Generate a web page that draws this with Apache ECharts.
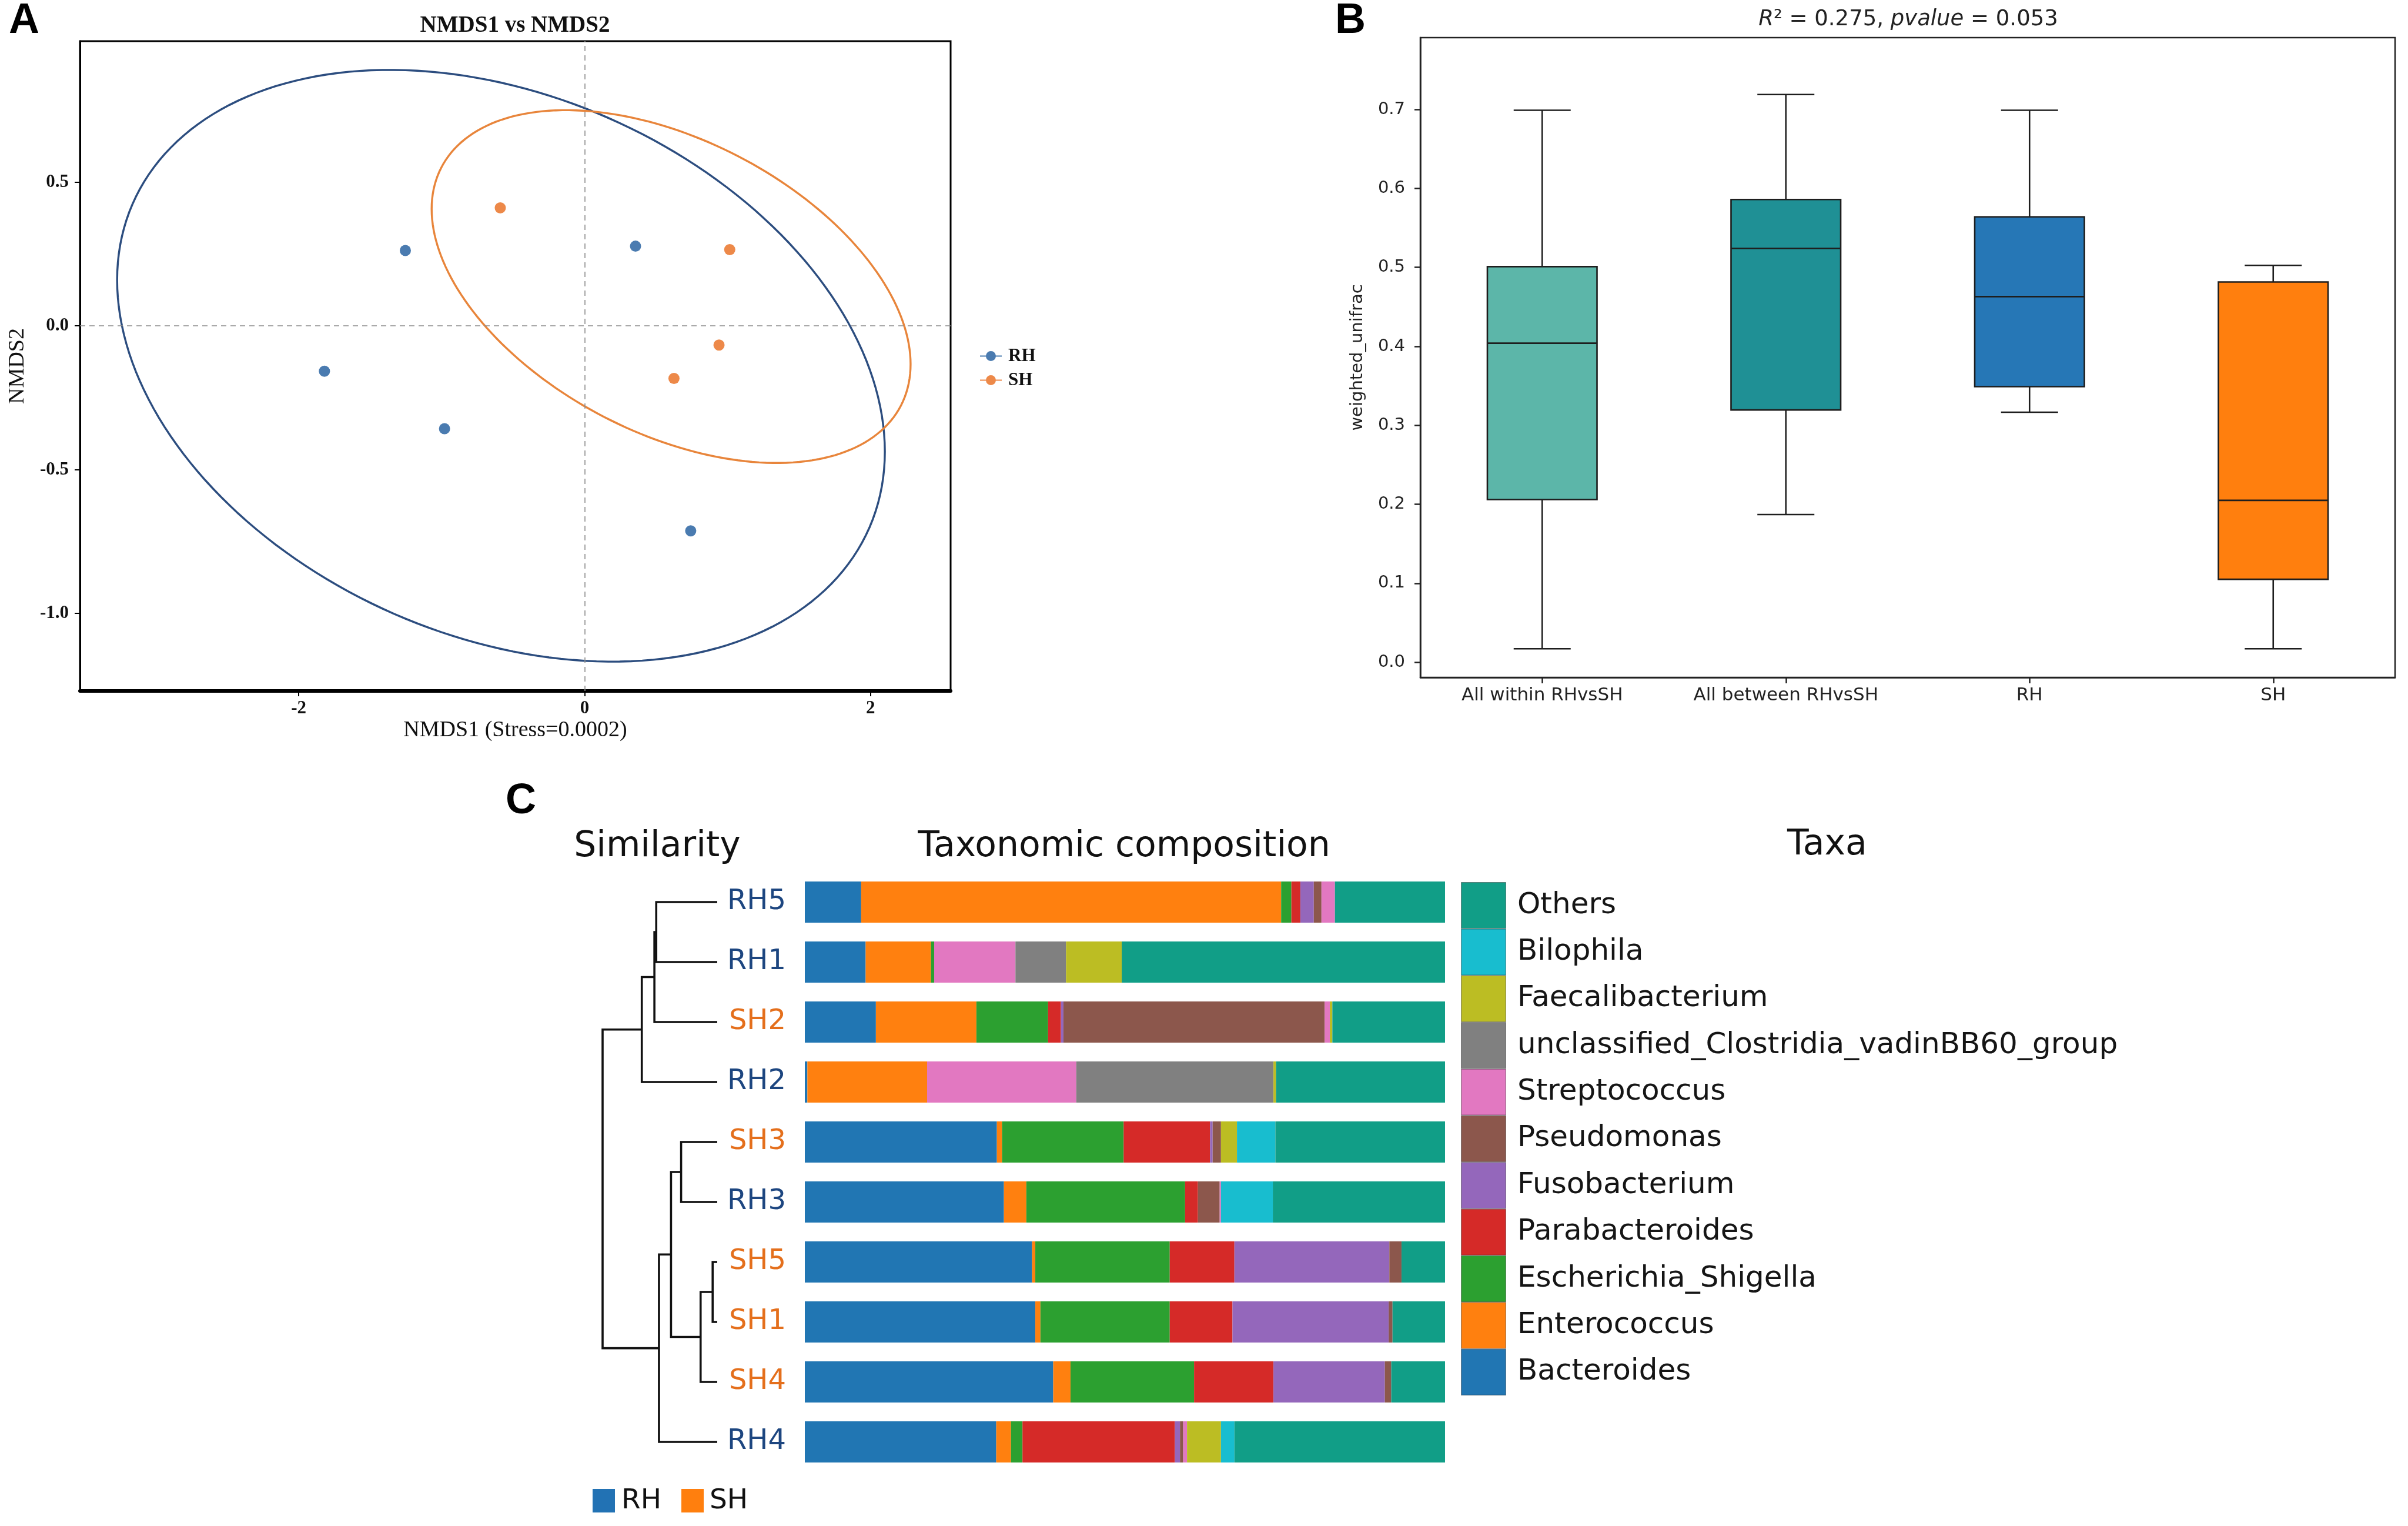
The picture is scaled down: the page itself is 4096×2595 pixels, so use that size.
<!DOCTYPE html>
<html>
<head>
<meta charset="utf-8">
<script src="https://cdn.jsdelivr.net/npm/echarts@6/dist/echarts.min.js"></script>
<style>html,body{margin:0;padding:0;background:#fff}#c{width:4096px;height:2595px}</style>
</head>
<body>
<div id="c"></div>
<script>
// ---------- Panel A: NMDS ----------
const rhPoints = [[-1.254, 0.262], [-1.82, -0.158], [-0.98, -0.358], [0.356, 0.277], [0.742, -0.713]];
const shPoints = [[-0.59, 0.41], [1.015, 0.265], [0.94, -0.067], [0.625, -0.183]];
// ellipse: [centerX, centerY, halfExtentX, halfExtentY, correlation]
const ellipseRH = [-0.585, -0.139, 2.685, 1.029, -0.29];
const ellipseSH = [0.605, 0.1365, 1.675, 0.6135, -0.44];
const nmdsXTicks = [-2, 0, 2];
const nmdsYTicks = [-1, -0.5, 0, 0.5];

// ---------- Panel B: boxplot ----------
const boxCategories = ['All within RHvsSH', 'All between RHvsSH', 'RH', 'SH'];
// [low, Q1, median, Q3, high]
const boxAllWithin = [0.017, 0.206, 0.404, 0.501, 0.699];
const boxAllBetween = [0.187, 0.3195, 0.524, 0.586, 0.719];
const boxRH = [0.3166, 0.349, 0.463, 0.564, 0.699];
const boxSH = [0.017, 0.105, 0.205, 0.4816, 0.5026];
const boxColors = ['#5cb6a9', '#1f9095', '#2677b6', '#ff7f0e'];
const boxYTicks = [0, 0.1, 0.2, 0.3, 0.4, 0.5, 0.6, 0.7];

// ---------- Panel C: taxonomic composition ----------
const samples = ['RH5', 'RH1', 'SH2', 'RH2', 'SH3', 'RH3', 'SH5', 'SH1', 'SH4', 'RH4'];
const bacteroides      = [8.8, 9.5, 11.1, 0.4, 30.0, 31.1, 35.5, 36.0, 38.8, 29.9];
const enterococcus     = [65.6, 10.2, 15.7, 18.7, 0.8, 3.5, 0.5, 0.8, 2.7, 2.3];
const escherichia      = [1.6, 0.5, 11.2, 0, 19.0, 24.8, 21.0, 20.2, 19.3, 1.8];
const parabacteroides  = [1.4, 0, 2.0, 0, 13.5, 2.0, 10.1, 9.8, 12.4, 23.8];
const fusobacterium    = [2.1, 0, 0.4, 0, 0.4, 0, 24.2, 24.4, 17.4, 0.8];
const pseudomonas      = [1.2, 0, 40.8, 0, 1.3, 3.4, 1.9, 0.6, 1.0, 0.5];
const streptococcus    = [2.1, 12.7, 0.8, 23.3, 0, 0.2, 0, 0, 0, 0.6];
const unclassified     = [0, 7.9, 0, 30.8, 0, 0, 0, 0, 0, 0];
const faecalibacterium = [0, 8.7, 0.4, 0.4, 2.5, 0, 0, 0, 0, 5.3];
const bilophila        = [0, 0, 0, 0, 6.0, 8.1, 0, 0, 0, 2.1];
const others           = [17.2, 50.5, 17.6, 26.4, 26.5, 26.9, 6.8, 8.2, 8.4, 32.9];
const taxaNames = ['Bacteroides', 'Enterococcus', 'Escherichia_Shigella', 'Parabacteroides', 'Fusobacterium',
  'Pseudomonas', 'Streptococcus', 'unclassified_Clostridia_vadinBB60_group', 'Faecalibacterium', 'Bilophila', 'Others'];
const taxaColors = ['#2176b3', '#ff800f', '#2ca030', '#d52a28', '#9467bb', '#8c574c', '#e278c1', '#808080', '#bcbd23', '#18bdcf', '#119e87'];
const taxaValues = [bacteroides, enterococcus, escherichia, parabacteroides, fusobacterium, pseudomonas,
  streptococcus, unclassified, faecalibacterium, bilophila, others];
// dendrogram merges: [childA, childB, height]; indices < 10 are rows of `samples`
const merges = [[0, 1, 0.532], [10, 2, 0.548], [11, 3, 0.658], [4, 5, 0.315], [6, 7, 0.04],
  [14, 8, 0.145], [13, 15, 0.403], [16, 9, 0.508], [12, 17, 1.0]];

const SERIF = 'Liberation Serif', SANS = 'DejaVu Sans';
const RH_TEXT = '#1d4680', SH_TEXT = '#e46f1c';

// dendrogram link segments built from the merge table
const pos = [], hgt = [];
samples.forEach((s, i) => { pos[i] = i; hgt[i] = 0; });
const links = merges.map(([a, b, h], k) => {
  const row = [hgt[a], pos[a], hgt[b], pos[b], h];
  pos[samples.length + k] = (pos[a] + pos[b]) / 2;
  hgt[samples.length + k] = h;
  return row;
});

const chart = echarts.init(document.getElementById('c'), null, {renderer: 'canvas'});

const ellipseSeries = {
  type: 'custom', xAxisIndex: 0, yAxisIndex: 0, silent: true, z: 2,
  data: [ellipseRH, ellipseSH],
  encode: {x: 0, y: 1},
  renderItem: function (params, api) {
    const cx = api.value(0), cy = api.value(1), sx = api.value(2), sy = api.value(3), r = api.value(4);
    const q = Math.sqrt(1 - r * r);
    const pts = [];
    for (let k = 0; k <= 200; k++) {
      const t = Math.PI * 2 * k / 200;
      pts.push(api.coord([cx + sx * Math.cos(t), cy + sy * (r * Math.cos(t) + q * Math.sin(t))]));
    }
    return {type: 'polyline', shape: {points: pts},
      style: {fill: 'none', stroke: params.dataIndex === 0 ? '#2c4d7f' : '#e8853b', lineWidth: 3.4}};
  }
};

const boxSeries = {
  type: 'custom', xAxisIndex: 1, yAxisIndex: 1, silent: true,
  data: [boxAllWithin, boxAllBetween, boxRH, boxSH].map((b, i) => [i].concat(b)),
  encode: {x: 0, y: [1, 2, 3, 4, 5]},
  renderItem: function (params, api) {
    const i = api.value(0);
    const band = api.size([1, 0])[0];
    const bw = band * 0.45, cw = bw * 0.52;
    const x = api.coord([i, 0])[0];
    const y = v => api.coord([i, v])[1];
    const lo = y(api.value(1)), q1 = y(api.value(2)), md = y(api.value(3)), q3 = y(api.value(4)), hi = y(api.value(5));
    const ls = {stroke: '#1e1e1e', lineWidth: 2.6};
    return {type: 'group', children: [
      {type: 'line', shape: {x1: x, y1: hi, x2: x, y2: q3}, style: ls},
      {type: 'line', shape: {x1: x, y1: q1, x2: x, y2: lo}, style: ls},
      {type: 'line', shape: {x1: x - cw / 2, y1: hi, x2: x + cw / 2, y2: hi}, style: ls},
      {type: 'line', shape: {x1: x - cw / 2, y1: lo, x2: x + cw / 2, y2: lo}, style: ls},
      {type: 'rect', shape: {x: x - bw / 2, y: q3, width: bw, height: q1 - q3},
        style: {fill: boxColors[params.dataIndex], stroke: '#1e1e1e', lineWidth: 2.6}},
      {type: 'line', shape: {x1: x - bw / 2, y1: md, x2: x + bw / 2, y2: md}, style: ls}
    ]};
  }
};

const dendroSeries = {
  type: 'custom', xAxisIndex: 2, yAxisIndex: 2, silent: true,
  data: links,
  encode: {x: [0, 2, 4], y: [1, 3]},
  renderItem: function (params, api) {
    const hA = api.value(0), yA = api.value(1), hB = api.value(2), yB = api.value(3), h = api.value(4);
    return {type: 'polyline',
      shape: {points: [api.coord([hA, yA]), api.coord([h, yA]), api.coord([h, yB]), api.coord([hB, yB])]},
      style: {fill: 'none', stroke: '#111', lineWidth: 3.6}};
  }
};

const barSeries = taxaNames.map((name, k) => ({
  name: name, type: 'bar', stack: 'comp', xAxisIndex: 3, yAxisIndex: 3, barWidth: 70, silent: true,
  itemStyle: {color: taxaColors[k]}, data: taxaValues[k]
}));

const legendOrder = taxaNames.slice().reverse();
const legendSeries = {
  type: 'bar', xAxisIndex: 4, yAxisIndex: 4, barWidth: '100%', silent: true,
  data: legendOrder.map(n => ({value: 1, itemStyle: {color: taxaColors[taxaNames.indexOf(n)],
    borderColor: 'rgba(40,40,40,0.45)', borderWidth: 1.2}}))
};

const legendIcon = 'path://M0,8 L12,8 L12,10 L0,10 Z M25,8 L37,8 L37,10 L25,10 Z M18.5,0.5 A8.5,8.5 0 1,1 18.49,0.5 Z';

function txt(text, x, y, font, opts) {
  return Object.assign({type: 'text', x: x, y: y, silent: true,
    style: Object.assign({text: text, font: font, fill: '#111', align: 'left', textAlign: 'left',
      verticalAlign: 'middle', textVerticalAlign: 'middle'}, opts || {})});
}
function ctxt(text, x, y, font, opts) {
  return txt(text, x, y, font, Object.assign({align: 'center', textAlign: 'center'}, opts || {}));
}

const option = {
  animation: false,
  backgroundColor: '#ffffff',
  grid: [
    {left: 136, top: 70, width: 1481, height: 1105, show: true, borderColor: '#000', borderWidth: 3, backgroundColor: 'transparent'},
    {left: 2416, top: 64, width: 1658, height: 1088, show: true, borderColor: '#222', borderWidth: 2.5, backgroundColor: 'transparent'},
    {left: 1025, top: 1483, width: 195, height: 1020},
    {left: 1369, top: 1483, width: 1089, height: 1020},
    {left: 2485, top: 1500, width: 77, height: 873}
  ],
  xAxis: [
    {gridIndex: 0, type: 'value', min: -3.53, max: 2.56,
      axisLine: {show: true, onZero: false, lineStyle: {color: '#000', width: 6}},
      axisTick: {show: true, customValues: nmdsXTicks, length: 9, lineStyle: {color: '#000', width: 2}},
      axisLabel: {customValues: nmdsXTicks, formatter: v => String(v), fontFamily: SERIF, fontWeight: 'bold', fontSize: 31, color: '#111', margin: 14},
      splitLine: {show: false},
      name: 'NMDS1 (Stress=0.0002)', nameLocation: 'middle', nameGap: 48,
      nameTextStyle: {fontFamily: SERIF, fontSize: 38, color: '#111'}},
    {gridIndex: 1, type: 'category', data: boxCategories,
      axisLine: {show: true, onZero: false, lineStyle: {color: '#222', width: 2.5}},
      axisTick: {show: true, alignWithLabel: true, length: 10, lineStyle: {color: '#222', width: 2.5}},
      axisLabel: {fontFamily: SANS, fontSize: 31, color: '#222', margin: 15}},
    {gridIndex: 2, type: 'value', min: 0, max: 1, inverse: true, show: false},
    {gridIndex: 3, type: 'value', min: 0, max: 100, show: false},
    {gridIndex: 4, type: 'value', min: 0, max: 1, show: false}
  ],
  yAxis: [
    {gridIndex: 0, type: 'value', min: -1.27, max: 0.99,
      axisLine: {show: true, onZero: false, lineStyle: {color: '#000', width: 3}},
      axisTick: {show: true, customValues: nmdsYTicks, length: 9, lineStyle: {color: '#000', width: 2}},
      axisLabel: {customValues: nmdsYTicks, formatter: v => v.toFixed(1), fontFamily: SERIF, fontWeight: 'bold', fontSize: 31, color: '#111', margin: 19},
      splitLine: {show: false},
      name: 'NMDS2', nameLocation: 'middle', nameGap: 87,
      nameTextStyle: {fontFamily: SERIF, fontSize: 38, color: '#111'}},
    {gridIndex: 1, type: 'value', min: -0.0193, max: 0.791,
      axisLine: {show: true, onZero: false, lineStyle: {color: '#222', width: 2.5}},
      axisTick: {show: true, customValues: boxYTicks, length: 10, lineStyle: {color: '#222', width: 2.5}},
      axisLabel: {customValues: boxYTicks, formatter: v => v.toFixed(1), fontFamily: SANS, fontSize: 29, color: '#222', margin: 26},
      splitLine: {show: false},
      name: 'weighted_unifrac', nameLocation: 'middle', nameGap: 92,
      nameTextStyle: {fontFamily: SANS, fontSize: 29, color: '#222'}},
    {gridIndex: 2, type: 'value', min: -0.5, max: 9.5, inverse: true, show: false},
    {gridIndex: 3, type: 'category', data: samples, inverse: true,
      axisLine: {show: false}, axisTick: {show: false},
      axisLabel: {margin: 32, fontFamily: SANS, fontSize: 48,
        formatter: v => (v.indexOf('RH') === 0 ? '{rh|' : '{sh|') + v + '}',
        rich: {rh: {color: RH_TEXT, fontFamily: SANS, fontSize: 48}, sh: {color: SH_TEXT, fontFamily: SANS, fontSize: 48}}}},
    {gridIndex: 4, type: 'category', data: legendOrder, inverse: true, position: 'right',
      axisLine: {show: false}, axisTick: {show: false},
      axisLabel: {margin: 19, fontFamily: SANS, fontSize: 50, color: '#151515'}}
  ],
  legend: {
    data: ['RH', 'SH'], orient: 'vertical', left: 1667, top: 590, padding: 0,
    itemWidth: 37, itemHeight: 18, itemGap: 10, icon: legendIcon, selectedMode: false,
    textStyle: {fontFamily: SERIF, fontWeight: 'bold', fontSize: 31, color: '#111', padding: [0, 0, 0, 6]}
  },
  series: [
    ellipseSeries,
    {name: 'RH', type: 'scatter', xAxisIndex: 0, yAxisIndex: 0, symbolSize: 19, z: 5, silent: true,
      itemStyle: {color: '#1d5a9c'}, data: rhPoints,
      markLine: {silent: true, symbol: 'none', label: {show: false}, animation: false,
        lineStyle: {color: '#8f8f8f', type: [9, 7], width: 1.6},
        data: [{xAxis: 0}, {yAxis: 0}]}},
    {name: 'SH', type: 'scatter', xAxisIndex: 0, yAxisIndex: 0, symbolSize: 19, z: 5, silent: true,
      itemStyle: {color: '#e96b1c'}, data: shPoints},
    boxSeries,
    dendroSeries
  ].concat(barSeries, [legendSeries]),
  graphic: [
    txt('A', 15, 36, 'bold 72px "Liberation Sans"', {fill: '#000'}),
    txt('B', 2271, 36, 'bold 72px "Liberation Sans"', {fill: '#000'}),
    txt('C', 860, 1363, 'bold 72px "Liberation Sans"', {fill: '#000'}),
    ctxt('NMDS1 vs NMDS2', 876, 44, 'bold 39px "Liberation Serif"'),
    ctxt('{i|R}{n|² = 0.275, }{i|pvalue}{n| = 0.053}', 3246, 33, '37px "DejaVu Sans"', {
      rich: {i: {fontStyle: 'italic', fontSize: 37, fontFamily: SANS, fill: '#222'},
             n: {fontSize: 37, fontFamily: SANS, fill: '#222'}}}),
    ctxt('Similarity', 1118, 1440, '60px "DejaVu Sans"'),
    ctxt('Taxonomic composition', 1912, 1440, '60px "DejaVu Sans"'),
    ctxt('Taxa', 3108, 1437, '60px "DejaVu Sans"'),
    {type: 'rect', shape: {x: 1008, y: 2532, width: 38, height: 40}, style: {fill: '#2272b4'}, silent: true},
    txt('RH', 1057, 2553, '47px "DejaVu Sans"'),
    {type: 'rect', shape: {x: 1159, y: 2532, width: 38, height: 40}, style: {fill: '#ff7f0e'}, silent: true},
    txt('SH', 1207, 2553, '47px "DejaVu Sans"')
  ]
};
chart.setOption(option);
</script>
</body>
</html>
